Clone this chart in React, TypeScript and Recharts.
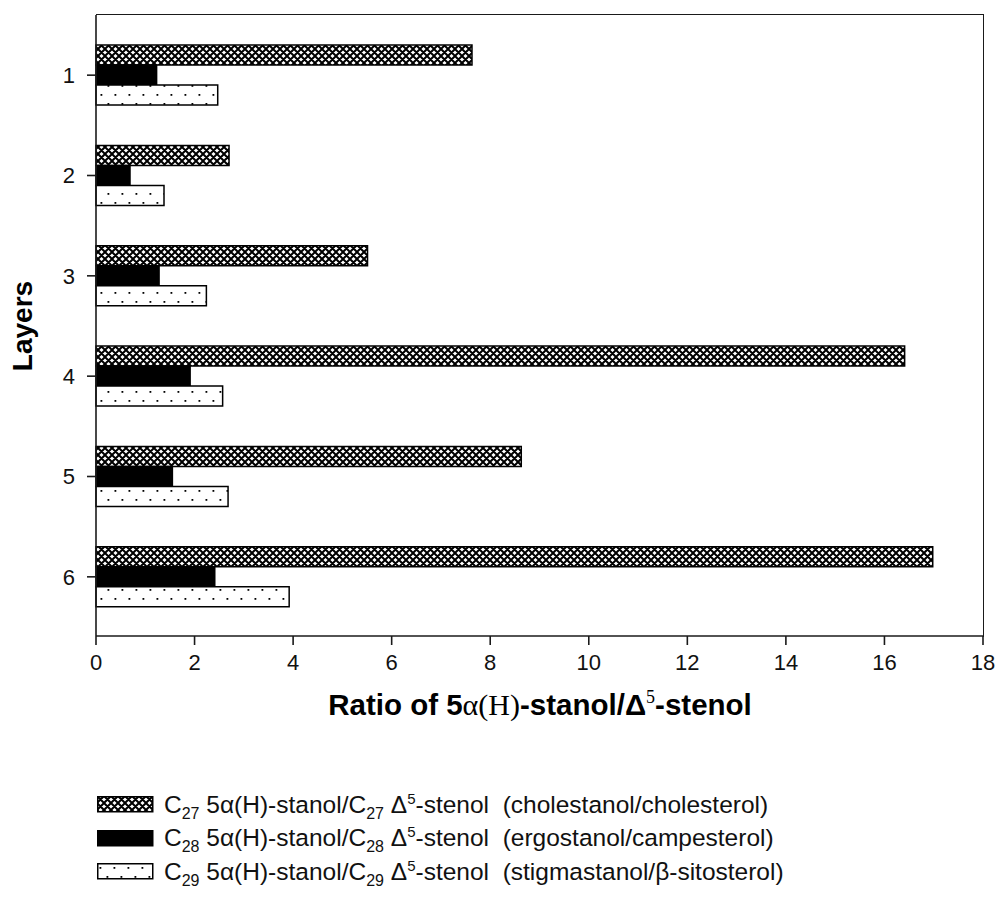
import React from "react"
import { BarChart, Bar, XAxis, YAxis } from "recharts"

const layers = ["1", "2", "3", "4", "5", "6"]
const c27 = [7.63, 2.7, 5.51, 16.41, 8.63, 16.98]
const c28 = [1.23, 0.69, 1.28, 1.91, 1.55, 2.41]
const c29 = [2.47, 1.38, 2.24, 2.57, 2.68, 3.92]
const xTicks = [0, 2, 4, 6, 8, 10, 12, 14, 16, 18]

const data = layers.map((layer, i) => ({ layer, c27: c27[i], c28: c28[i], c29: c29[i] }))

const FONT = "'Liberation Sans', Arial, sans-serif"
const AXIS = "#1a1a1a"

function Patterns({ prefix }: { prefix: string }) {
  return (
    <defs>
      <pattern id={`${prefix}-hatch`} width={7} height={7} patternUnits="userSpaceOnUse">
        <rect width={7} height={7} fill="#fff" />
        <path d="M0,0 L7,7 M7,0 L0,7 M-1,6 L1,8 M6,-1 L8,1 M-1,1 L1,-1 M6,8 L8,6" stroke="#000" strokeWidth={2} />
      </pattern>
      <pattern id={`${prefix}-dots`} width={14} height={18} patternUnits="userSpaceOnUse">
        <rect width={14} height={18} fill="#fff" />
        <rect x={2.5} y={4} width={1.8} height={1.8} fill="#000" />
        <rect x={9.5} y={13} width={1.8} height={1.8} fill="#000" />
      </pattern>
    </defs>
  )
}

const legendItems = [
  { key: "c27", fill: "url(#lg-hatch)", n: "27", note: "(cholestanol/cholesterol)" },
  { key: "c28", fill: "#000", n: "28", note: "(ergostanol/campesterol)" },
  { key: "c29", fill: "url(#lg-dots)", n: "29", note: "(stigmastanol/\u03b2-sitosterol)" },
]

function LegendBox() {
  return (
    <div style={{ position: "absolute", left: 97, top: 788, fontFamily: FONT, fontSize: 24.5, color: "#111" }}>
      {legendItems.map((it) => (
        <div key={it.key} style={{ display: "flex", alignItems: "center", height: 33.5 }}>
          <svg width={57} height={17} style={{ marginRight: 10, flexShrink: 0 }}>
            <Patterns prefix="lg" />
            <rect x={0.75} y={0.75} width={55} height={15} fill={it.fill} stroke="#000" strokeWidth={1.5} />
          </svg>
          <span style={{ whiteSpace: "pre", lineHeight: "26px" }}>
            C<sub style={{ fontSize: 16, lineHeight: 0 }}>{it.n}</sub> 5α(H)-stanol/C<sub style={{ fontSize: 16, lineHeight: 0 }}>{it.n}</sub> Δ<sup style={{ fontSize: 15, lineHeight: 0 }}>5</sup>-stenol  {it.note}
          </span>
        </div>
      ))}
    </div>
  )
}

export default function App() {
  return (
    <div style={{ position: "absolute", left: 0, top: 0, width: 998, height: 905, background: "#fff" }}>
      <BarChart
        width={998}
        height={905}
        data={data}
        layout="vertical"
        margin={{ top: 15, right: 15, left: 36, bottom: 219 }}
        barCategoryGap="20%"
        barGap={0}
      >
        <Patterns prefix="ch" />
        <XAxis
          type="number"
          domain={[0, 18]}
          ticks={xTicks}
          interval={0}
          height={50}
          tickSize={9}
          tickMargin={9}
          axisLine={{ stroke: AXIS, strokeWidth: 1.6 }}
          tickLine={{ stroke: AXIS, strokeWidth: 1.6 }}
          tick={{ fontSize: 22, fill: "#111", fontFamily: FONT }}
          label={{
            content: () => (
              <text x={540} y={715} textAnchor="middle" fontFamily={FONT} fontSize={29.5} fontWeight="bold" fill="#000">
                Ratio of 5<tspan fontFamily="'Liberation Serif', serif" fontWeight="normal" fontSize={30}>α(H)</tspan>-stanol/Δ
                <tspan dy={-12} fontSize={18} fontWeight="normal" fontFamily="'Liberation Serif', serif">5</tspan>
                <tspan dy={12}>-stenol</tspan>
              </text>
            ),
          }}
        />
        <YAxis
          type="category"
          dataKey="layer"
          width={60}
          padding={{ top: 10, bottom: 9 }}
          tickSize={9}
          tickMargin={12}
          axisLine={{ stroke: AXIS, strokeWidth: 1.6 }}
          tickLine={{ stroke: AXIS, strokeWidth: 1.6 }}
          tick={{ fontSize: 22, fill: "#111", fontFamily: FONT }}
          label={{
            content: () => (
              <text x={32} y={326} transform="rotate(-90 32 326)" textAnchor="middle" fontFamily={FONT} fontSize={28} fontWeight="bold" fill="#000">
                Layers
              </text>
            ),
          }}
        />
        <Bar dataKey="c27" fill="url(#ch-hatch)" stroke="#000" strokeWidth={1.5} isAnimationActive={false} />
        <Bar dataKey="c28" fill="#000" stroke="#000" strokeWidth={1.5} isAnimationActive={false} />
        <Bar dataKey="c29" fill="url(#ch-dots)" stroke="#000" strokeWidth={1.5} isAnimationActive={false} />
      </BarChart>
      {/* top and right frame lines of the plot box */}
      <div
        style={{
          position: "absolute",
          left: 96,
          top: 14.2,
          width: 887,
          height: 622,
          borderTop: `1.6px solid ${AXIS}`,
          borderRight: `1.6px solid ${AXIS}`,
          pointerEvents: "none",
        }}
      />
      <LegendBox />
    </div>
  )
}
